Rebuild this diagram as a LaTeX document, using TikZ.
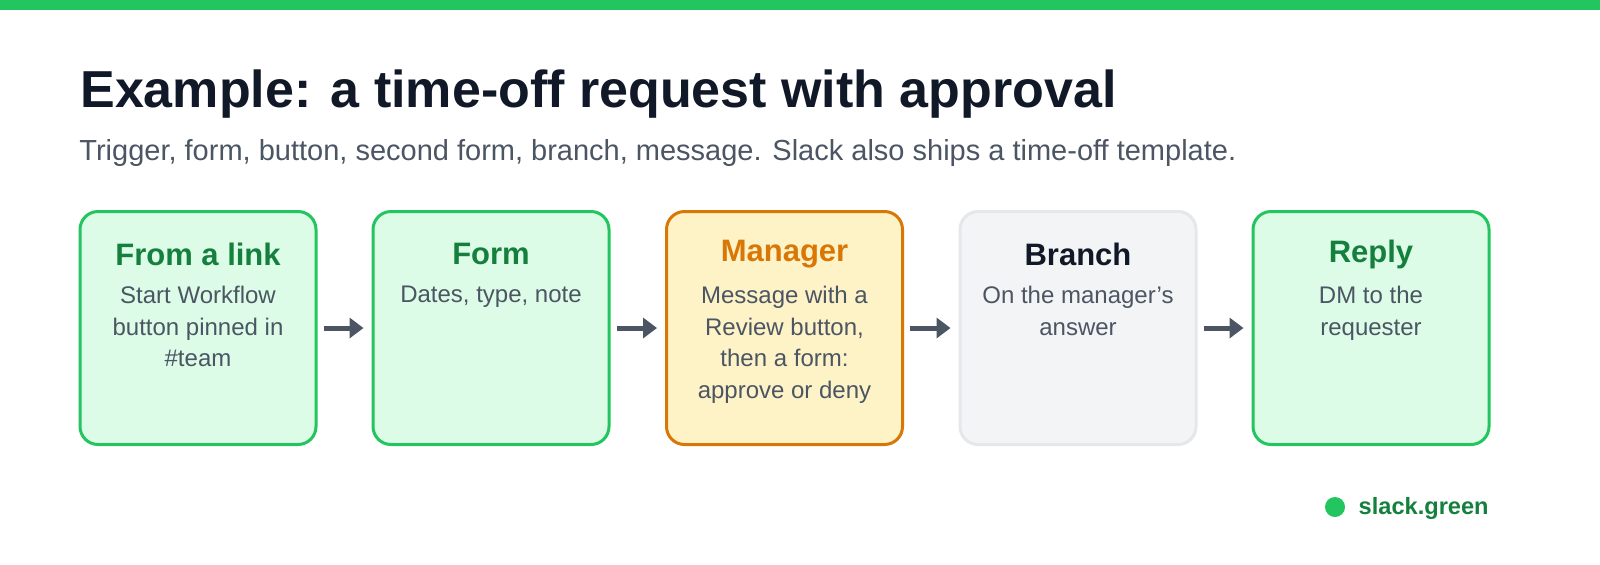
\documentclass[tikz,border=0pt]{standalone}
\usepackage{fontspec}
\setmainfont{Liberation Sans}
\usetikzlibrary{arrows.meta}
\definecolor{gb}{HTML}{22C55E}
\definecolor{gf}{HTML}{DCFCE7}
\definecolor{gt}{HTML}{15803D}
\definecolor{ob}{HTML}{D97706}
\definecolor{of}{HTML}{FEF3C7}
\definecolor{yb}{HTML}{E5E7EB}
\definecolor{yf}{HTML}{F3F4F6}
\definecolor{dk}{HTML}{111827}
\definecolor{bd}{HTML}{4B5563}
\tikzset{
 box/.style={draw=#1, line width=1.5pt, rounded corners=9pt, minimum width=118pt, minimum height=116.5pt, inner sep=0pt},
 ttl/.style={font=\fontsize{15.5}{18}\selectfont\bfseries, anchor=center},
 body/.style={font=\fontsize{12}{15.8}\selectfont, text=bd, align=center, anchor=north},
 arr/.style={-{Triangle[length=7pt,width=10pt]}, line width=2.5pt, draw=bd}
}
\begin{document}
\begin{tikzpicture}[x=0.5pt,y=-0.5pt]
\useasboundingbox (0,0) rectangle (1600,564);
\fill[white] (0,0) rectangle (1600,564);
\fill[gb] (0,0) rectangle (1600,10);
\node[anchor=west, text=dk, font=\fontsize{26}{30}\selectfont\bfseries, inner sep=0pt] (title) at (80,94) {Example: a time-off request with approval};
\node[anchor=west, text=bd, font=\fontsize{14.5}{17}\selectfont, inner sep=0pt] (sub) at (79,153) {Trigger, form, button, second form, branch, message. Slack also ships a time-off template.};
\node[box=gb, fill=gf] (b1) at (198,328) {};
\node[box=gb, fill=gf] (b2) at (491,328) {};
\node[box=ob, fill=of] (b3) at (784.5,328) {};
\node[box=yb, fill=yf] (b4) at (1078,328) {};
\node[box=gb, fill=gf] (b5) at (1371,328) {};
\node[ttl, text=gt] (t1) at (198,254) {From a link};
\node[ttl, text=gt] (t2) at (491,254) {Form};
\node[ttl, text=ob] (t3) at (784.5,254) {Manager};
\node[ttl, text=dk] (t4) at (1078,254) {Branch};
\node[ttl, text=gt] (t5) at (1371,254) {Reply};
\node[body] (d1) at (198,279) {Start Workflow\\button pinned in\\\#team};
\node[body] (d2) at (491,279) {Dates, type, note};
\node[body] (d3) at (784.5,279) {Message with a\\Review button,\\then a form:\\approve or deny};
\node[body] (d4) at (1078,279) {On the manager's\\answer};
\node[body] (d5) at (1371,279) {DM to the\\requester};
\draw[arr] ([xshift=3pt]b1.east) -- ([xshift=-4pt]b2.west);
\draw[arr] ([xshift=3pt]b2.east) -- ([xshift=-4pt]b3.west);
\draw[arr] ([xshift=3pt]b3.east) -- ([xshift=-4pt]b4.west);
\draw[arr] ([xshift=3pt]b4.east) -- ([xshift=-4pt]b5.west);
\fill[gb] (1335,507) circle (10);
\node[anchor=east, text=gt, font=\fontsize{11.8}{14}\selectfont\bfseries, inner sep=0pt] (foot) at (1489,508) {slack.green};
\end{tikzpicture}
\end{document}
